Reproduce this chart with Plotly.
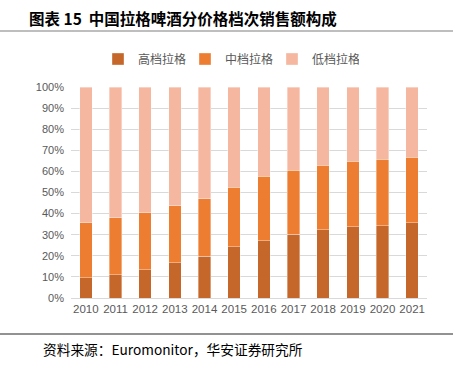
import plotly.graph_objects as go

years = ["2010", "2011", "2012", "2013", "2014", "2015", "2016", "2017", "2018", "2019", "2020", "2021"]
high = [9.5, 11.0, 13.4, 16.7, 19.7, 24.4, 27.1, 30.2, 32.3, 33.7, 34.3, 35.7]
mid = [26.2, 27.1, 26.9, 27.1, 27.4, 28.2, 30.7, 30.4, 30.7, 31.2, 31.4, 31.1]
low = [64.3, 61.9, 59.7, 56.2, 52.9, 47.4, 42.2, 39.4, 37.0, 35.1, 34.3, 33.2]
names = ["高档拉格", "中档拉格", "低档拉格"]
colors = ["#C5672A", "#ED7D31", "#F5B7A0"]

W, H = 459, 365
ml, mr, mt, mb = 71, 32, 87, 67
pw, ph = W - ml - mr, H - mt - mb

def px(x):
    return (x - ml) / pw

def py(y):
    return (H - mb - y) / ph

fig = go.Figure()
for name, vals, c in zip(names, [high, mid, low], colors):
    fig.add_trace(go.Bar(
        x=years, y=[v / 100 for v in vals], name=name,
        marker=dict(color=c, line=dict(color="rgba(255,255,255,0.6)", width=0.6)),
    ))

fig.update_layout(
    width=W, height=H,
    margin=dict(l=ml, r=mr, t=mt, b=mb, autoexpand=False),
    barmode="stack", bargap=0.58,
    plot_bgcolor="white", paper_bgcolor="white",
    font=dict(family="Liberation Sans, Arial, sans-serif", color="#595959", size=11),
    showlegend=True,
    legend=dict(
        orientation="h", x=px(98), xanchor="left", y=py(59), yanchor="middle",
        traceorder="normal", font=dict(family="Noto Sans CJK SC", size=12, color="#595959"),
        itemwidth=30, entrywidth=42, entrywidthmode="pixels", bgcolor="rgba(0,0,0,0)",
    ),
    xaxis=dict(
        showgrid=False, showline=True, linecolor="#D9D9D9", linewidth=1,
        ticks="", tickfont=dict(size=11.5, color="#595959"),
    ),
    yaxis=dict(
        range=[0, 1.0], tickformat=".0%", dtick=0.1,
        showgrid=True, gridcolor="#D9D9D9", gridwidth=1,
        zeroline=False, ticks="", tickfont=dict(size=11, color="#595959"),
        ticklabelstandoff=6,
    ),
    shapes=[
        dict(type="line", xref="paper", yref="paper", x0=px(0), x1=px(453), y0=py(31), y1=py(31),
             line=dict(color="#7F7F7F", width=1.2)),
        dict(type="line", xref="paper", yref="paper", x0=px(0), x1=px(453), y0=py(334), y1=py(334),
             line=dict(color="#262626", width=1.2)),
    ],
    annotations=[
        dict(text="<b>图表 15  中国拉格啤酒分价格档次销售额构成</b>", xref="paper", yref="paper",
             x=px(27), y=py(18), xanchor="left", yanchor="middle", showarrow=False,
             font=dict(family="Noto Sans CJK SC", size=15.5, color="#000000")),
        dict(text="资料来源：Euromonitor，华安证券研究所", xref="paper", yref="paper",
             x=px(41), y=py(349), xanchor="left", yanchor="middle", showarrow=False,
             font=dict(family="Noto Sans CJK SC", size=13.7, color="#000000")),
    ],
)

fig.write_html("out.html", config={"displayModeBar": False},
               post_script="document.body.style.margin='0';document.body.style.overflow='hidden';")
